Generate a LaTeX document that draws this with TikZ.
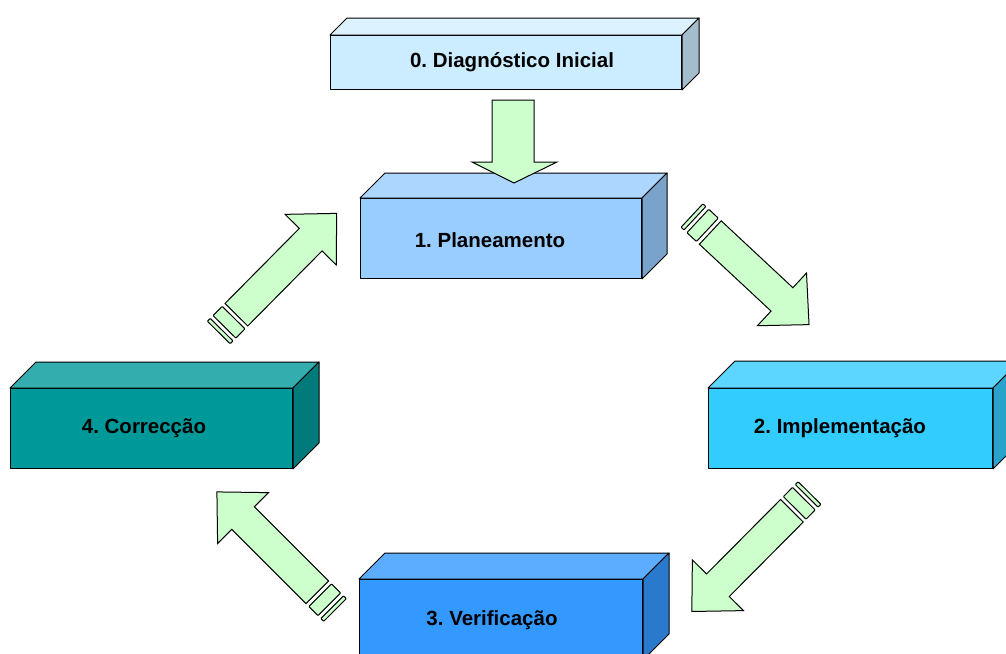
\documentclass[tikz,border=0pt]{standalone}
\usepackage{fontspec}
\setmainfont{Liberation Sans}
\frenchspacing
\definecolor{f0}{HTML}{CCECFF}\definecolor{t0c}{HTML}{DDF2FF}\definecolor{s0}{HTML}{A3BDCC}
\definecolor{f1}{HTML}{99CCFF}\definecolor{t1c}{HTML}{ADD6FF}\definecolor{s1}{HTML}{7AA3CC}
\definecolor{f2}{HTML}{33CCFF}\definecolor{t2c}{HTML}{5CD6FF}\definecolor{s2}{HTML}{29A3CC}
\definecolor{f3}{HTML}{3399FF}\definecolor{t3c}{HTML}{5CADFF}\definecolor{s3}{HTML}{297ACC}
\definecolor{f4}{HTML}{009999}\definecolor{t4c}{HTML}{33ADAD}\definecolor{s4}{HTML}{007A7A}
\definecolor{arrowgreen}{HTML}{CCFFCC}
\tikzset{
  edge/.style={draw=black, line width=1pt, line join=round},
  lbl/.style={font=\fontsize{20.5}{24}\selectfont\bfseries, inner sep=0pt},
  arrowshape/.style={draw=black, fill=arrowgreen, line width=1pt, line join=miter},
}
\newcommand\cuboid[9]{%
  \node[edge, fill=#7, minimum width=#4pt, minimum height=#5pt, anchor=north west, inner sep=0pt] (#1) at (#2,#3) {};
  \draw[edge, fill=#8] (#1.north west) -- ++(#6,-#6) -- ([shift={(#6,-#6)}]#1.north east) -- (#1.north east) -- cycle;
  \draw[edge, fill=#9] (#1.north east) -- ++(#6,-#6) -- ([shift={(#6,-#6)}]#1.south east) -- (#1.south east) -- cycle;
}
\newcommand\stripedarrow[3]{%
  \begin{scope}[shift={(#1)}, rotate=#2]
    \draw[arrowshape, rounded corners=0.8pt] (0,-16) rectangle (4,16);
    \draw[arrowshape, rounded corners=0.8pt] (8,-16) rectangle (21,16);
    \draw[arrowshape] (25,-16) -- ({#3-37},-16) -- ({#3-37},-36) -- (#3,0) -- ({#3-37},36) -- ({#3-37},16) -- (25,16) -- cycle;
  \end{scope}}
\begin{document}
\begin{tikzpicture}[x=1pt, y=-1pt]
\useasboundingbox (0,0) rectangle (1006,653);
\clip (0,0) rectangle (1006,653);
% boxes
\cuboid{b0}{330}{35}{351}{54}{17}{f0}{t0c}{s0}
\cuboid{b1}{360}{198}{281}{80}{25}{f1}{t1c}{s1}
\cuboid{b2}{708}{388}{284}{80}{27}{f2}{t2c}{s2}
\cuboid{b3}{359}{579}{283}{80}{26}{f3}{t3c}{s3}
\cuboid{b4}{10}{388}{282}{80}{26}{f4}{t4c}{s4}
% labels
\node[lbl] (l0) at (512,62) {0. Diagnóstico Inicial};
\node[lbl] (l1) at (490,240) {1. Planeamento};
\node[lbl] (l2) at (840,428) {2. Implementação};
\node[lbl] (l3) at (492,620) {3. Verificação};
\node[lbl] (l4) at (144,428) {4. Correcção};
% down arrow
\draw[arrowshape] (492,100) -- (534,100) -- (534,162) -- (557,162) -- (514,183) -- (472,162) -- (492,162) -- cycle;
% striped arrows
\stripedarrow{692,215.5}{-43}{160}
\stripedarrow{809.5,493}{-134.8}{167}
\stripedarrow{335,610}{135}{167}
\stripedarrow{218.8,332.5}{45.3}{167.6}
\end{tikzpicture}
\end{document}
